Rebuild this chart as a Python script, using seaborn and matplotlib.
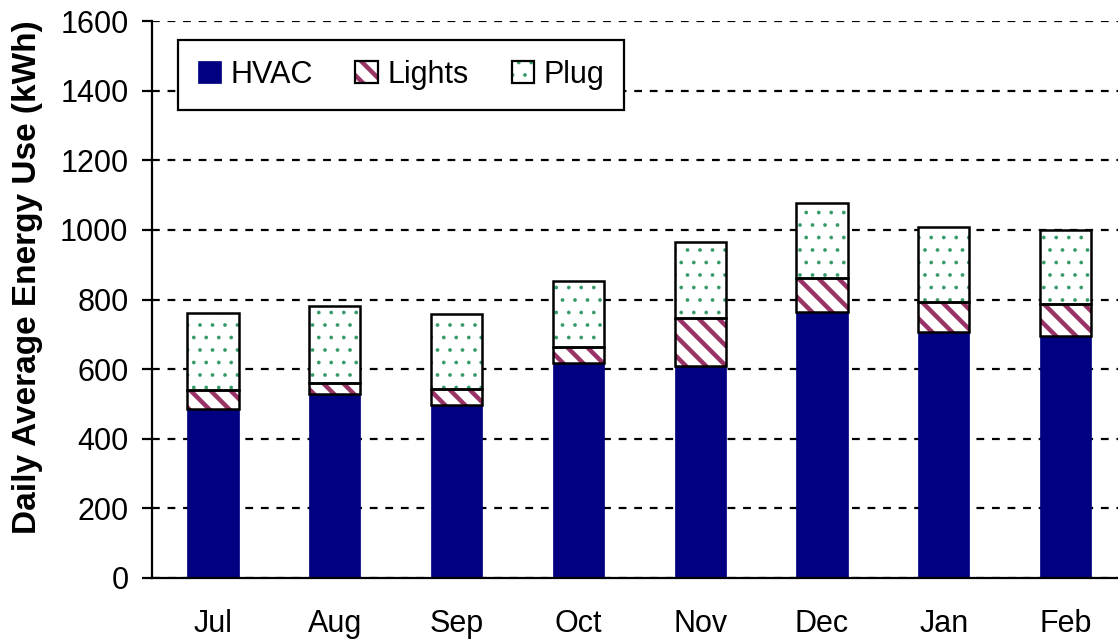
import matplotlib
matplotlib.use("Agg")
import matplotlib.pyplot as plt
import matplotlib.hatch as mhatch
from matplotlib.patches import Patch, Rectangle
import seaborn as sns

months = ["Jul", "Aug", "Sep", "Oct", "Nov", "Dec", "Jan", "Feb"]
hvac = [485, 529, 497, 618, 609, 764, 707, 695]
lights = [55, 31, 46, 46, 138, 98, 86, 92]
plug = [221, 221, 216, 189, 219, 216, 216, 213]

hvac_color = "#000080"
lights_color = "#993366"
plug_color = "#339966"


# Hatch patterns closer to the original Excel fills
class SEStripes(mhatch.SouthEastHatch):
    def __init__(self, hatch, density):
        super().__init__(hatch, density)
        self.num_lines = hatch.count("\\") * 10
        self.num_vertices = (self.num_lines + 1) * 2 if self.num_lines else 0


class SparseDots(mhatch.Circles):
    size = 0.13
    filled = True

    def __init__(self, hatch, density):
        self.num_rows = hatch.count(".") * 8
        mhatch.Circles.__init__(self, hatch, density)


mhatch._hatch_types[mhatch._hatch_types.index(mhatch.SouthEastHatch)] = SEStripes
mhatch._hatch_types[mhatch._hatch_types.index(mhatch.SmallFilledCircles)] = SparseDots

sns.set_theme(style="white")
plt.rcParams["font.family"] = ["Liberation Sans", "DejaVu Sans"]
plt.rcParams["hatch.linewidth"] = 3.2
plt.rcParams["text.color"] = "black"
plt.rcParams["axes.labelcolor"] = "black"
plt.rcParams["xtick.color"] = "black"
plt.rcParams["ytick.color"] = "black"

fig = plt.figure(figsize=(11.18, 6.43), dpi=100)
ax = fig.add_axes([0.136, 0.1011, 0.8716, 0.8662])

lights_bottom = [h for h in hvac]
plug_bottom = [h + l for h, l in zip(hvac, lights)]
width = 0.42


def draw(values, bottom):
    n0 = len(ax.patches)
    sns.barplot(x=months, y=values, order=months, bottom=bottom, width=width,
                errorbar=None, color="white", ax=ax)
    return ax.patches[n0:]


def set_hlw(p, lw):
    if hasattr(p, "set_hatch_linewidth"):
        p.set_hatch_linewidth(lw)


# HVAC
for p in draw(hvac, [0] * len(hvac)):
    p.set_facecolor(hvac_color)
    p.set_edgecolor(hvac_color)
    p.set_linewidth(0.5)
    p.set_zorder(2)

# Lights hatch layer
for p in draw(lights, lights_bottom):
    p.set_facecolor("white")
    p.set_edgecolor(lights_color)
    p.set_hatch("\\")
    p.set_linewidth(0)
    p.set_zorder(2)
    set_hlw(p, 3.2)
# Lights outline
for p in draw(lights, lights_bottom):
    p.set_facecolor("none")
    p.set_edgecolor("black")
    p.set_linewidth(1.8)
    p.set_zorder(3)

# Plug hatch layer
for p in draw(plug, plug_bottom):
    p.set_facecolor("white")
    p.set_edgecolor(plug_color)
    p.set_hatch(".")
    p.set_linewidth(0)
    p.set_zorder(2)
    set_hlw(p, 0.3)
# Plug outline
for p in draw(plug, plug_bottom):
    p.set_facecolor("none")
    p.set_edgecolor("black")
    p.set_linewidth(1.8)
    p.set_zorder(3)

ax.set_xlim(-0.5, len(months) - 0.5)
ax.set_ylim(0, 1600)
ax.set_yticks(range(0, 1601, 200))
ax.yaxis.grid(True, color="black", linestyle=(0, (3.5, 3.5)), linewidth=1.6)
ax.xaxis.grid(False)
ax.set_axisbelow(True)

for s in ["top", "right"]:
    ax.spines[s].set_visible(False)
for s in ["left", "bottom"]:
    ax.spines[s].set_color("black")
    ax.spines[s].set_linewidth(1.6)
    ax.spines[s].set_zorder(4)

ax.tick_params(axis="y", direction="out", length=7, width=1.6, color="black",
               labelsize=22, pad=10, left=True, labelcolor="black")
ax.tick_params(axis="x", length=0, labelsize=22, pad=22, labelcolor="black")
ax.set_xlabel("")
ax.set_ylabel("Daily Average Energy Use (kWh)", fontsize=24, fontweight="bold",
              color="black")
ax.yaxis.set_label_coords(-0.112, 0.54)

# Legend
h_hvac = Patch(facecolor=hvac_color, edgecolor=hvac_color, linewidth=0.5)
h_l1 = Patch(facecolor="white", edgecolor=lights_color, hatch="\\", linewidth=0)
h_l2 = Patch(facecolor="none", edgecolor="black", linewidth=1.6)
h_p1 = Patch(facecolor="white", edgecolor=plug_color, hatch=".", linewidth=0)
h_p2 = Patch(facecolor="none", edgecolor="black", linewidth=1.6)
set_hlw(h_l1, 3.2)
set_hlw(h_p1, 0.3)
leg = ax.legend([h_hvac, (h_l1, h_l2), (h_p1, h_p2)], ["HVAC", "Lights", "Plug"],
                loc="upper left", bbox_to_anchor=(0.027, 0.966), borderaxespad=0,
                ncol=3, fontsize=22, handlelength=0.75, handleheight=0.75,
                handletextpad=0.3, columnspacing=1.4, fancybox=False,
                framealpha=1, edgecolor="black", borderpad=0.65)
leg.get_frame().set_linewidth(1.6)
leg.set_zorder(5)
for r in leg.findobj(Rectangle):
    if r.get_hatch() == ".":
        set_hlw(r, 0.3)

fig.savefig("out.png", dpi=100)
